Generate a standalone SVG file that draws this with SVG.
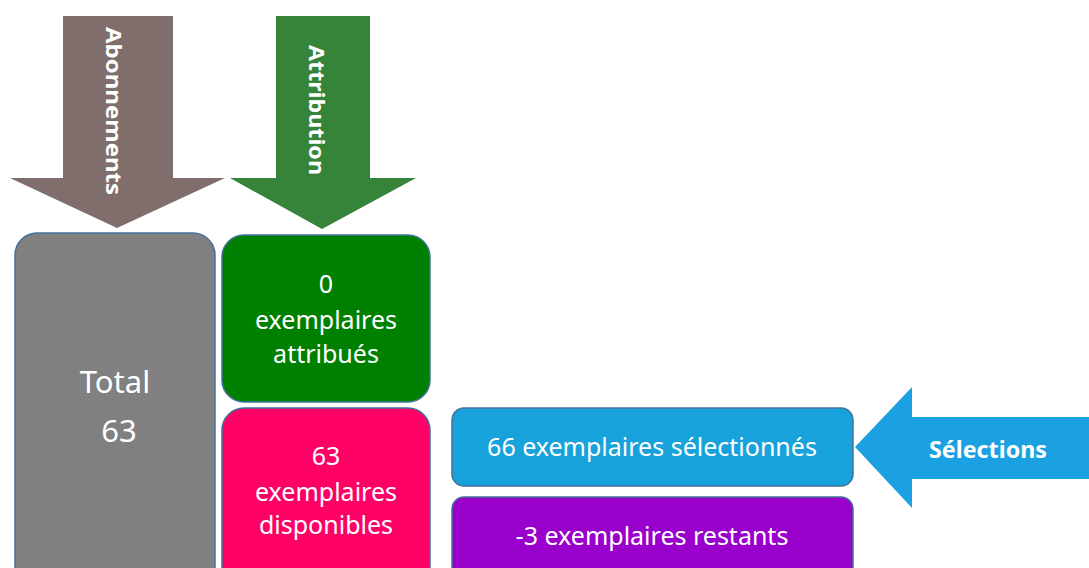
<svg xmlns="http://www.w3.org/2000/svg" width="1089" height="568" viewBox="0 0 1089 568">
<style>
.box{stroke:#41719C;stroke-width:1.5}
.t{font-family:"Noto Sans","Open Sans",sans-serif;fill:#fff;text-anchor:middle}
.b{font-family:"Noto Sans","Open Sans",sans-serif;fill:#fff;font-weight:bold;text-anchor:middle;dominant-baseline:central}
</style>
<rect width="1089" height="568" fill="#fff"/>
<g id="connectors">
<g id="arrow-abonnements">
<polygon points="63,16 173,16 173,178 225,178 117,228 10,178 63,178" fill="#806E6C"/>
<text class="b" font-size="22" transform="translate(115,111) rotate(90)" textLength="168" lengthAdjust="spacingAndGlyphs">Abonnements</text>
</g>
<g id="arrow-attribution">
<polygon points="276,16 370,16 370,178 416,178 322,229 230,178 276,178" fill="#35843A"/>
<text class="b" font-size="22" transform="translate(318,110) rotate(90)" textLength="130" lengthAdjust="spacingAndGlyphs">Attribution</text>
</g>
<g id="arrow-selections">
<polygon points="1089,417 912,417 912,387 855,447 912,508 912,479 1089,479" fill="#1BA1E2"/>
<text class="b" font-size="23" x="988" y="449" textLength="118" lengthAdjust="spacingAndGlyphs">Sélections</text>
</g>
</g>
<g id="node-total">
<rect class="box" x="15" y="233" width="200" height="360" rx="22" fill="#808080"/>
<text class="t" font-size="31" x="115" y="393">Total</text>
<text class="t" font-size="31" x="119" y="442">63</text>
</g>
<g id="node-attribues">
<rect class="box" x="222" y="235" width="208" height="167" rx="22" fill="#008000"/>
<text class="t" font-size="25" x="326" y="293">0</text>
<text class="t" font-size="25" x="326" y="329">exemplaires</text>
<text class="t" font-size="25" x="326" y="363">attribués</text>
</g>
<g id="node-disponibles">
<rect class="box" x="222" y="408" width="208" height="190" rx="22" fill="#FF0066"/>
<text class="t" font-size="25" x="326" y="465">63</text>
<text class="t" font-size="25" x="326" y="501">exemplaires</text>
<text class="t" font-size="25" x="326" y="534">disponibles</text>
</g>
<g id="node-selectionnes">
<rect class="box" x="452" y="408" width="401" height="78" rx="12" fill="#17A2DC"/>
<text class="t" font-size="25" x="652" y="456">66 exemplaires sélectionnés</text>
</g>
<g id="node-restants">
<rect class="box" x="452" y="497" width="401" height="90" rx="12" fill="#9900CC"/>
<text class="t" font-size="25" x="652" y="545">-3 exemplaires restants</text>
</g>
</svg>
